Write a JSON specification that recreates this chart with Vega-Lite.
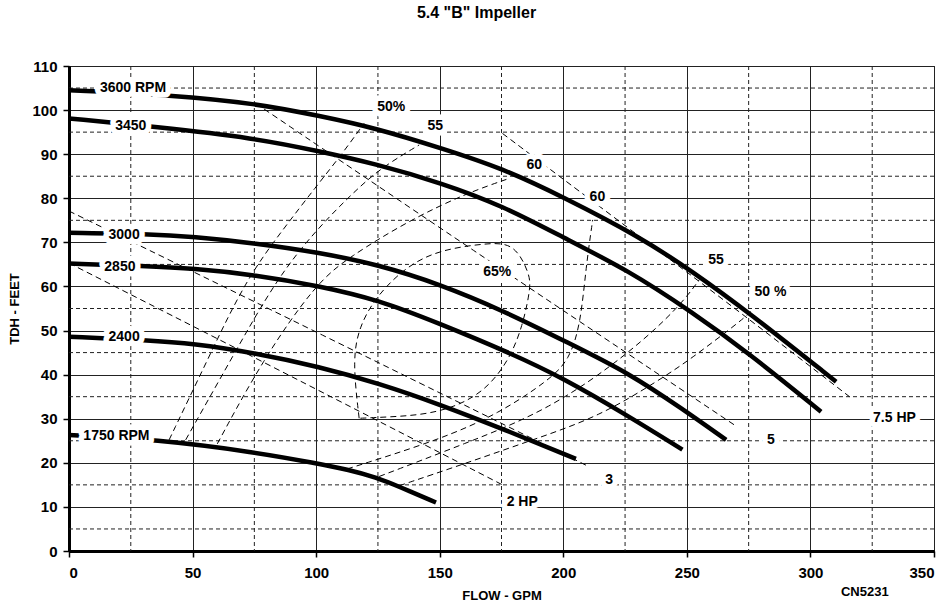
{
  "$schema": "https://vega.github.io/schema/vega-lite/v6.json",
  "width": 865,
  "height": 485,
  "autosize": "none",
  "padding": {"left": 69, "top": 66, "right": 17, "bottom": 58},
  "background": "white",
  "title": {"text": "5.4 \"B\" Impeller", "font": "Liberation Sans", "fontSize": 16, "fontWeight": "bold", "color": "black", "anchor": "middle", "dx": -25, "offset": 38},
  "config": {
    "view": {"stroke": "black", "strokeWidth": 1},
    "axis": {"labelFont": "Liberation Sans", "labelFontWeight": "bold", "labelFontSize": 15, "labelColor": "black", "titleFont": "Liberation Sans", "titleFontWeight": "bold", "titleFontSize": 13, "titleColor": "black", "domainColor": "black", "domainWidth": 3, "tickColor": "black", "tickWidth": 1.5, "tickSize": 6, "gridColor": "#222", "gridWidth": 1, "gridOpacity": 1}
  },
  "datasets": {
    "gx": [{"v": 25}, {"v": 75}, {"v": 125}, {"v": 175}, {"v": 225}, {"v": 275}, {"v": 325}],
    "gy": [{"v": 5}, {"v": 15}, {"v": 25}, {"v": 35}, {"v": 45}, {"v": 55}, {"v": 65}, {"v": 75}, {"v": 85}, {"v": 95}, {"v": 105}],
    "curves": [
      {"s": "3600", "k": "rpm", "i": 0, "x": 0, "y": 104.5},
      {"s": "3600", "k": "rpm", "i": 1, "x": 41.7, "y": 103.4},
      {"s": "3600", "k": "rpm", "i": 2, "x": 75.6, "y": 101.5},
      {"s": "3600", "k": "rpm", "i": 3, "x": 101.2, "y": 98.7},
      {"s": "3600", "k": "rpm", "i": 4, "x": 124.2, "y": 95.9},
      {"s": "3600", "k": "rpm", "i": 5, "x": 151, "y": 91.3},
      {"s": "3600", "k": "rpm", "i": 6, "x": 175.3, "y": 86.8},
      {"s": "3600", "k": "rpm", "i": 7, "x": 199.6, "y": 80.4},
      {"s": "3600", "k": "rpm", "i": 8, "x": 230.8, "y": 71.3},
      {"s": "3600", "k": "rpm", "i": 9, "x": 252.3, "y": 63.4},
      {"s": "3600", "k": "rpm", "i": 10, "x": 275.3, "y": 54.0},
      {"s": "3600", "k": "rpm", "i": 11, "x": 310.4, "y": 38.4},
      {"s": "3450", "k": "rpm", "i": 0, "x": 0, "y": 98.1},
      {"s": "3450", "k": "rpm", "i": 1, "x": 35, "y": 96.2},
      {"s": "3450", "k": "rpm", "i": 2, "x": 75.6, "y": 93.6},
      {"s": "3450", "k": "rpm", "i": 3, "x": 100, "y": 90.8},
      {"s": "3450", "k": "rpm", "i": 4, "x": 124.2, "y": 87.8},
      {"s": "3450", "k": "rpm", "i": 5, "x": 151.1, "y": 83.4},
      {"s": "3450", "k": "rpm", "i": 6, "x": 175.4, "y": 78.3},
      {"s": "3450", "k": "rpm", "i": 7, "x": 199.7, "y": 71.2},
      {"s": "3450", "k": "rpm", "i": 8, "x": 226.7, "y": 63.5},
      {"s": "3450", "k": "rpm", "i": 9, "x": 251, "y": 54.6},
      {"s": "3450", "k": "rpm", "i": 10, "x": 275.3, "y": 44.8},
      {"s": "3450", "k": "rpm", "i": 11, "x": 304.3, "y": 31.6},
      {"s": "3000", "k": "rpm", "i": 0, "x": 0, "y": 72.2},
      {"s": "3000", "k": "rpm", "i": 1, "x": 32.4, "y": 71.9},
      {"s": "3000", "k": "rpm", "i": 2, "x": 49.9, "y": 71.3},
      {"s": "3000", "k": "rpm", "i": 3, "x": 75.6, "y": 69.8},
      {"s": "3000", "k": "rpm", "i": 4, "x": 101.2, "y": 67.7},
      {"s": "3000", "k": "rpm", "i": 5, "x": 125.5, "y": 64.9},
      {"s": "3000", "k": "rpm", "i": 6, "x": 150, "y": 60.5},
      {"s": "3000", "k": "rpm", "i": 7, "x": 175.4, "y": 54.6},
      {"s": "3000", "k": "rpm", "i": 8, "x": 202.4, "y": 47.1},
      {"s": "3000", "k": "rpm", "i": 9, "x": 226.7, "y": 40.3},
      {"s": "3000", "k": "rpm", "i": 10, "x": 248, "y": 32.3},
      {"s": "3000", "k": "rpm", "i": 11, "x": 265.9, "y": 25.2},
      {"s": "2850", "k": "rpm", "i": 0, "x": 0, "y": 65.2},
      {"s": "2850", "k": "rpm", "i": 1, "x": 30.9, "y": 64.6},
      {"s": "2850", "k": "rpm", "i": 2, "x": 49.9, "y": 64.1},
      {"s": "2850", "k": "rpm", "i": 3, "x": 75.6, "y": 62.6},
      {"s": "2850", "k": "rpm", "i": 4, "x": 101.2, "y": 60.1},
      {"s": "2850", "k": "rpm", "i": 5, "x": 125.5, "y": 56.9},
      {"s": "2850", "k": "rpm", "i": 6, "x": 149.8, "y": 51.6},
      {"s": "2850", "k": "rpm", "i": 7, "x": 178.1, "y": 45.0},
      {"s": "2850", "k": "rpm", "i": 8, "x": 199.7, "y": 39.3},
      {"s": "2850", "k": "rpm", "i": 9, "x": 226.7, "y": 30.5},
      {"s": "2850", "k": "rpm", "i": 10, "x": 248.2, "y": 23.0},
      {"s": "2400", "k": "rpm", "i": 0, "x": 0, "y": 48.6},
      {"s": "2400", "k": "rpm", "i": 1, "x": 32.4, "y": 47.8},
      {"s": "2400", "k": "rpm", "i": 2, "x": 49.9, "y": 47.1},
      {"s": "2400", "k": "rpm", "i": 3, "x": 75.6, "y": 44.9},
      {"s": "2400", "k": "rpm", "i": 4, "x": 101.2, "y": 41.8},
      {"s": "2400", "k": "rpm", "i": 5, "x": 125.5, "y": 38.0},
      {"s": "2400", "k": "rpm", "i": 6, "x": 149.8, "y": 33.3},
      {"s": "2400", "k": "rpm", "i": 7, "x": 176.8, "y": 27.4},
      {"s": "2400", "k": "rpm", "i": 8, "x": 205.1, "y": 20.9},
      {"s": "1750", "k": "rpm", "i": 0, "x": 0, "y": 26.3},
      {"s": "1750", "k": "rpm", "i": 1, "x": 35.1, "y": 25.3},
      {"s": "1750", "k": "rpm", "i": 2, "x": 75.6, "y": 22.4},
      {"s": "1750", "k": "rpm", "i": 3, "x": 99.9, "y": 19.9},
      {"s": "1750", "k": "rpm", "i": 4, "x": 113.4, "y": 18.4},
      {"s": "1750", "k": "rpm", "i": 5, "x": 124.2, "y": 16.7},
      {"s": "1750", "k": "rpm", "i": 6, "x": 133.6, "y": 14.6},
      {"s": "1750", "k": "rpm", "i": 7, "x": 148.5, "y": 11.0},
      {"s": "2 HP", "k": "eff", "i": 0, "x": 0, "y": 65.3},
      {"s": "2 HP", "k": "eff", "i": 1, "x": 101.2, "y": 36.4},
      {"s": "2 HP", "k": "eff", "i": 2, "x": 175.4, "y": 15.0},
      {"s": "3 HP", "k": "eff", "i": 0, "x": 0, "y": 77.1},
      {"s": "3 HP", "k": "eff", "i": 1, "x": 101.2, "y": 49.4},
      {"s": "3 HP", "k": "eff", "i": 2, "x": 210.5, "y": 19.1},
      {"s": "5 HP", "k": "eff", "i": 0, "x": 75.6, "y": 101.5},
      {"s": "5 HP", "k": "eff", "i": 1, "x": 159.2, "y": 69.8},
      {"s": "5 HP", "k": "eff", "i": 2, "x": 269.2, "y": 28.6},
      {"s": "7.5 HP", "k": "eff", "i": 0, "x": 175.4, "y": 94.7},
      {"s": "7.5 HP", "k": "eff", "i": 1, "x": 209.3, "y": 80.4},
      {"s": "7.5 HP", "k": "eff", "i": 2, "x": 264.5, "y": 57.2},
      {"s": "7.5 HP", "k": "eff", "i": 3, "x": 315.8, "y": 35.0},
      {"s": "50L", "k": "eff", "i": 0, "x": 40.5, "y": 25.2},
      {"s": "50L", "k": "eff", "i": 1, "x": 56, "y": 43.3},
      {"s": "50L", "k": "eff", "i": 2, "x": 71.5, "y": 61.5},
      {"s": "50L", "k": "eff", "i": 3, "x": 86.4, "y": 72.8},
      {"s": "50L", "k": "eff", "i": 4, "x": 99.9, "y": 82.6},
      {"s": "50L", "k": "eff", "i": 5, "x": 110.7, "y": 90.2},
      {"s": "50L", "k": "eff", "i": 6, "x": 119.4, "y": 97.0},
      {"s": "55L", "k": "eff", "i": 0, "x": 47.2, "y": 25.2},
      {"s": "55L", "k": "eff", "i": 1, "x": 65.4, "y": 43.3},
      {"s": "55L", "k": "eff", "i": 2, "x": 83.7, "y": 61.5},
      {"s": "55L", "k": "eff", "i": 3, "x": 99.9, "y": 72.8},
      {"s": "55L", "k": "eff", "i": 4, "x": 116.1, "y": 81.9},
      {"s": "55L", "k": "eff", "i": 5, "x": 126.8, "y": 87.1},
      {"s": "55L", "k": "eff", "i": 6, "x": 141.7, "y": 92.1},
      {"s": "60L", "k": "eff", "i": 0, "x": 60, "y": 24.3},
      {"s": "60L", "k": "eff", "i": 1, "x": 78.3, "y": 43.3},
      {"s": "60L", "k": "eff", "i": 2, "x": 99.9, "y": 60.7},
      {"s": "60L", "k": "eff", "i": 3, "x": 113.4, "y": 66.7},
      {"s": "60L", "k": "eff", "i": 4, "x": 137.7, "y": 75.0},
      {"s": "60L", "k": "eff", "i": 5, "x": 160.6, "y": 81.1},
      {"s": "60L", "k": "eff", "i": 6, "x": 178.1, "y": 84.5},
      {"s": "60R", "k": "eff", "i": 0, "x": 112.5, "y": 18.6},
      {"s": "60R", "k": "eff", "i": 1, "x": 149.8, "y": 25.2},
      {"s": "60R", "k": "eff", "i": 2, "x": 174.1, "y": 31.2},
      {"s": "60R", "k": "eff", "i": 3, "x": 194.3, "y": 38.8},
      {"s": "60R", "k": "eff", "i": 4, "x": 202.4, "y": 43.3},
      {"s": "60R", "k": "eff", "i": 5, "x": 207, "y": 51.5},
      {"s": "60R", "k": "eff", "i": 6, "x": 209.2, "y": 64.5},
      {"s": "60R", "k": "eff", "i": 7, "x": 211.9, "y": 75.1},
      {"s": "55R", "k": "eff", "i": 0, "x": 125.5, "y": 16.9},
      {"s": "55R", "k": "eff", "i": 1, "x": 160, "y": 24.3},
      {"s": "55R", "k": "eff", "i": 2, "x": 194.3, "y": 32.0},
      {"s": "55R", "k": "eff", "i": 3, "x": 226.7, "y": 44.8},
      {"s": "55R", "k": "eff", "i": 4, "x": 247, "y": 55.4},
      {"s": "55R", "k": "eff", "i": 5, "x": 255, "y": 61.5},
      {"s": "50R", "k": "eff", "i": 0, "x": 133.6, "y": 14.8},
      {"s": "50R", "k": "eff", "i": 1, "x": 160.6, "y": 19.9},
      {"s": "50R", "k": "eff", "i": 2, "x": 187.6, "y": 25.2},
      {"s": "50R", "k": "eff", "i": 3, "x": 214.6, "y": 30.5},
      {"s": "50R", "k": "eff", "i": 4, "x": 238.9, "y": 38.8},
      {"s": "50R", "k": "eff", "i": 5, "x": 251, "y": 43.3},
      {"s": "50R", "k": "eff", "i": 6, "x": 274, "y": 53.1},
      {"s": "50R", "k": "eff", "i": 7, "x": 276, "y": 54.5},
      {"s": "65", "k": "eff", "i": 0, "x": 117.4, "y": 30.1},
      {"s": "65", "k": "eff", "i": 1, "x": 114.7, "y": 43.3},
      {"s": "65", "k": "eff", "i": 2, "x": 117.4, "y": 50.9},
      {"s": "65", "k": "eff", "i": 3, "x": 124.2, "y": 57.7},
      {"s": "65", "k": "eff", "i": 4, "x": 136.3, "y": 64.5},
      {"s": "65", "k": "eff", "i": 5, "x": 149.8, "y": 68.3},
      {"s": "65", "k": "eff", "i": 6, "x": 168.7, "y": 69.8},
      {"s": "65", "k": "eff", "i": 7, "x": 180.2, "y": 69.9},
      {"s": "65", "k": "eff", "i": 8, "x": 186.2, "y": 63.0},
      {"s": "65", "k": "eff", "i": 9, "x": 186.9, "y": 59.9},
      {"s": "65", "k": "eff", "i": 10, "x": 183.5, "y": 50.9},
      {"s": "65", "k": "eff", "i": 11, "x": 178.1, "y": 43.3},
      {"s": "65", "k": "eff", "i": 12, "x": 168.7, "y": 36.5},
      {"s": "65", "k": "eff", "i": 13, "x": 156.6, "y": 32.7},
      {"s": "65", "k": "eff", "i": 14, "x": 143.0, "y": 30.8},
      {"s": "65", "k": "eff", "i": 15, "x": 125.5, "y": 30.3},
      {"s": "65", "k": "eff", "i": 16, "x": 117.4, "y": 30.1}
    ],
    "labels": [
      {"t": "3600 RPM", "x": 25.9, "y": 105},
      {"t": "3450", "x": 25, "y": 96.4},
      {"t": "3000", "x": 22.3, "y": 71.7},
      {"t": "2850", "x": 20.6, "y": 64.5},
      {"t": "2400", "x": 22.3, "y": 48.5},
      {"t": "1750 RPM", "x": 19.2, "y": 26.1},
      {"t": "50%", "x": 130.4, "y": 100.7},
      {"t": "55", "x": 148.2, "y": 96.4},
      {"t": "60", "x": 188.3, "y": 87.5},
      {"t": "60", "x": 213.8, "y": 80.3},
      {"t": "65%", "x": 173.3, "y": 63.3},
      {"t": "55", "x": 261.8, "y": 66},
      {"t": "50 %", "x": 283.8, "y": 58.8},
      {"t": "7.5 HP", "x": 334, "y": 30.1},
      {"t": "5", "x": 284, "y": 25.2},
      {"t": "3", "x": 218.6, "y": 16.0},
      {"t": "2 HP", "x": 183.4, "y": 11.2}
    ],
    "notes": [
      {"t": "CN5231", "x": 322, "y": -9.4}
    ]
  },
  "layer": [
    {
      "data": {"name": "gx"},
      "mark": {"type": "rule", "stroke": "#222", "strokeWidth": 1, "strokeDash": [4, 3]},
      "encoding": {
        "x": {"field": "v", "type": "quantitative", "scale": {"domain": [0, 350], "nice": false, "zero": false},
              "axis": {"values": [0, 50, 100, 150, 200, 250, 300, 350], "grid": true, "title": "FLOW - GPM", "labelPadding": 8, "titlePadding": 9}}
      }
    },
    {
      "data": {"name": "gy"},
      "mark": {"type": "rule", "stroke": "#222", "strokeWidth": 1, "strokeDash": [4, 3]},
      "encoding": {
        "y": {"field": "v", "type": "quantitative", "scale": {"domain": [0, 110], "nice": false, "zero": false},
              "axis": {"values": [0, 10, 20, 30, 40, 50, 60, 70, 80, 90, 100, 110], "grid": true, "title": "TDH - FEET", "labelPadding": 6, "titlePadding": 10}}
      }
    },
    {
      "data": {"name": "curves"},
      "transform": [{"filter": "datum.k == 'eff'"}],
      "mark": {"type": "line", "stroke": "black", "strokeWidth": 1, "strokeDash": [6, 4], "interpolate": "basis"},
      "encoding": {
        "x": {"field": "x", "type": "quantitative"},
        "y": {"field": "y", "type": "quantitative"},
        "detail": {"field": "s"},
        "order": {"field": "i", "type": "quantitative"}
      }
    },
    {
      "data": {"name": "curves"},
      "transform": [{"filter": "datum.k == 'rpm'"}],
      "mark": {"type": "line", "stroke": "black", "strokeWidth": 4.5, "interpolate": "basis"},
      "encoding": {
        "x": {"field": "x", "type": "quantitative"},
        "y": {"field": "y", "type": "quantitative"},
        "detail": {"field": "s"},
        "order": {"field": "i", "type": "quantitative"}
      }
    },
    {
      "data": {"name": "labels"},
      "mark": {"type": "text", "font": "Liberation Sans", "fontWeight": "bold", "fontSize": 14, "align": "center", "baseline": "middle", "fill": "white", "stroke": "white", "strokeWidth": 11, "strokeJoin": "round"},
      "encoding": {
        "x": {"field": "x", "type": "quantitative"},
        "y": {"field": "y", "type": "quantitative"},
        "text": {"field": "t"}
      }
    },
    {
      "data": {"name": "labels"},
      "mark": {"type": "text", "font": "Liberation Sans", "fontWeight": "bold", "fontSize": 14, "align": "center", "baseline": "middle", "fill": "black"},
      "encoding": {
        "x": {"field": "x", "type": "quantitative"},
        "y": {"field": "y", "type": "quantitative"},
        "text": {"field": "t"}
      }
    },
    {
      "data": {"name": "notes"},
      "mark": {"type": "text", "font": "Liberation Sans", "fontWeight": "bold", "fontSize": 13, "align": "center", "baseline": "middle", "fill": "black"},
      "encoding": {
        "x": {"field": "x", "type": "quantitative"},
        "y": {"field": "y", "type": "quantitative"},
        "text": {"field": "t"}
      }
    }
  ]
}
